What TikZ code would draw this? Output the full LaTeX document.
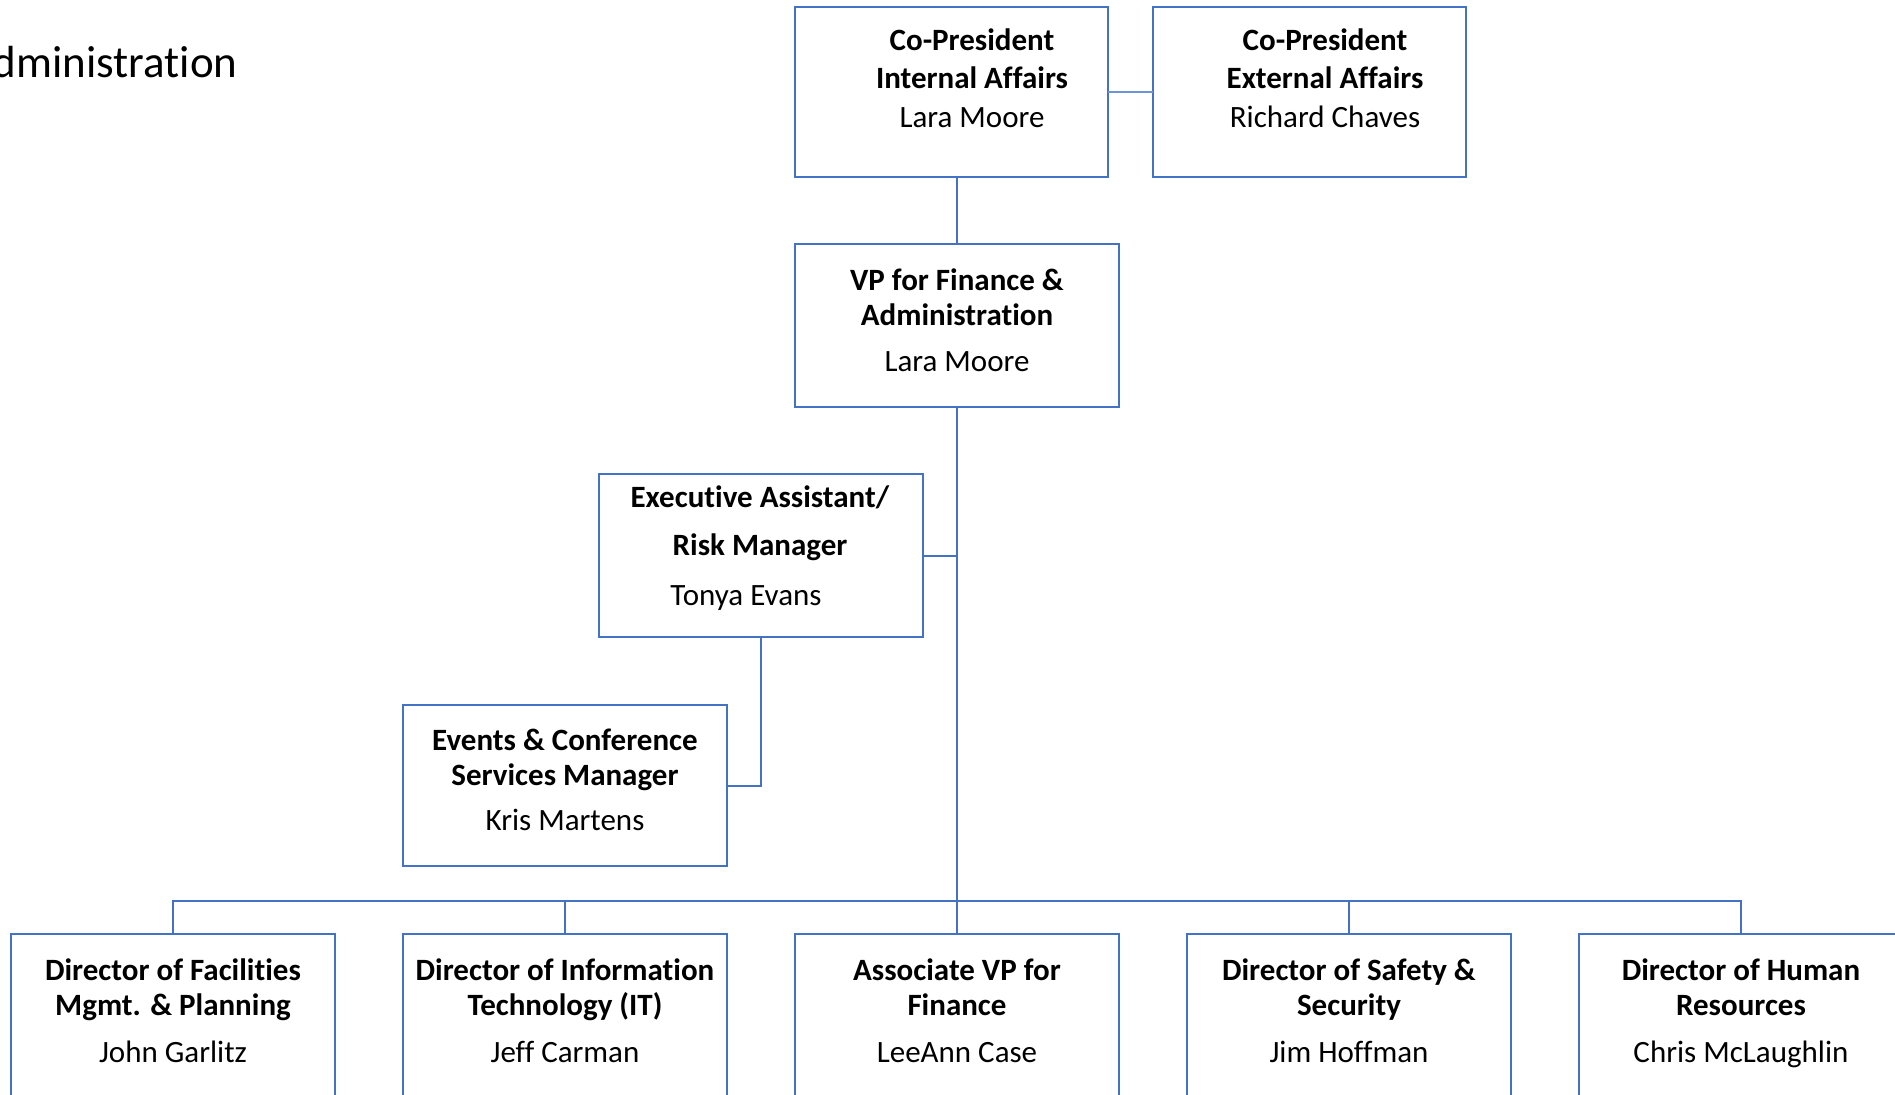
\documentclass[tikz,border=0pt]{standalone}
\usepackage{fontspec}
\setmainfont{Carlito}[Ligatures={NoCommon}]
\definecolor{orgblue}{HTML}{4472C4}
\definecolor{linkblue}{HTML}{6E93D6}
\tikzset{
  orgbox/.style={draw=orgblue, line width=1pt, inner sep=0pt, outer sep=0pt, fill=white},
  wide/.style={orgbox, minimum width=162pt},
  lbl/.style={anchor=base, inner sep=0pt, outer sep=0pt, font=\fontsize{15.5}{17.5}\selectfont},
  conn/.style={draw=orgblue, line width=1pt},
}
\begin{document}
\begin{tikzpicture}[x=0.5pt, y=-0.5pt]
\useasboundingbox (0,0) rectangle (1895,1094);
% title
\node[anchor=base east, inner sep=0pt, font=\fontsize{22.5}{27}\selectfont] (title) at (238,77) {Administration};
% boxes
\node[orgbox, minimum width=156.5pt, minimum height=85pt] (cpi) at (951.5,92) {};
\node[orgbox, minimum width=156.5pt, minimum height=85pt] (cpe) at (1309.5,92) {};
\node[wide, minimum height=81.5pt] (vp) at (957,325.5) {};
\node[wide, minimum height=81.5pt] (exec) at (760.5,555.5) {};
\node[wide, minimum height=80.5pt] (events) at (565,785.5) {};
\node[wide, minimum height=110pt, anchor=north] (b1) at (173,934) {};
\node[wide, minimum height=110pt, anchor=north] (b2) at (565,934) {};
\node[wide, minimum height=110pt, anchor=north] (b3) at (957,934) {};
\node[wide, minimum height=110pt, anchor=north] (b4) at (1349,934) {};
\node[wide, minimum height=110pt, anchor=north] (b5) at (1741,934) {};
% connectors
\coordinate (bus) at (957,901);
\draw[draw=linkblue, line width=0.7pt] (cpi.east) -- (cpe.west);
\draw[conn] (vp.north) -- (vp.north |- cpi.south);
\draw[conn] (vp.south) -- (bus);
\draw[conn] (b1.north) |- (bus) -| (b5.north);
\draw[conn] (b2.north) -- (b2.north |- bus);
\draw[conn] (b3.north) -- (bus);
\draw[conn] (b4.north) -- (b4.north |- bus);
\draw[conn] (exec.east) -- (exec.east -| vp.south);
\draw[conn] (exec.south) |- (events.east);
% texts
\node[lbl] (tcpi) at (972,50) {\begin{tabular}[t]{@{}c@{}}\textbf{Co-President}\\[1.5pt]\textbf{Internal Affairs}\\[2pt]Lara Moore\end{tabular}};
\node[lbl] (tcpe) at (1325,50) {\begin{tabular}[t]{@{}c@{}}\textbf{Co-President}\\[1.5pt]\textbf{External Affairs}\\[2pt]Richard Chaves\end{tabular}};
\node[lbl] (tvp) at (957,290) {\begin{tabular}[t]{@{}c@{}}\textbf{VP for Finance \&}\\\textbf{Administration}\\[5.5pt]Lara Moore\end{tabular}};
\node[lbl] (texec) at (760,507) {\begin{tabular}[t]{@{}c@{}}\textbf{Executive Assistant/}\\[6.5pt]\textbf{Risk Manager}\\[7.5pt]Tonya Evans\hspace*{14pt}\end{tabular}};
\node[lbl] (tevents) at (565,750) {\begin{tabular}[t]{@{}c@{}}\textbf{Events \& Conference}\\\textbf{Services Manager}\\[5pt]Kris Martens\end{tabular}};
\node[lbl] (tb1) at (173,980) {\begin{tabular}[t]{@{}c@{}}\textbf{Director of Facilities}\\\textbf{Mgmt. \& Planning}\\[6pt]John Garlitz\end{tabular}};
\node[lbl] (tb2) at (565,980) {\begin{tabular}[t]{@{}c@{}}\textbf{Director of Information}\\\textbf{Technology (IT)}\\[6pt]Jeff Carman\end{tabular}};
\node[lbl] (tb3) at (957,980) {\begin{tabular}[t]{@{}c@{}}\textbf{Associate VP for}\\\textbf{Finance}\\[6pt]LeeAnn Case\end{tabular}};
\node[lbl] (tb4) at (1349,980) {\begin{tabular}[t]{@{}c@{}}\textbf{Director of Safety \&}\\\textbf{Security}\\[6pt]Jim Hoffman\end{tabular}};
\node[lbl] (tb5) at (1741,980) {\begin{tabular}[t]{@{}c@{}}\textbf{Director of Human}\\\textbf{Resources}\\[6pt]Chris McLaughlin\end{tabular}};
\end{tikzpicture}
\end{document}
